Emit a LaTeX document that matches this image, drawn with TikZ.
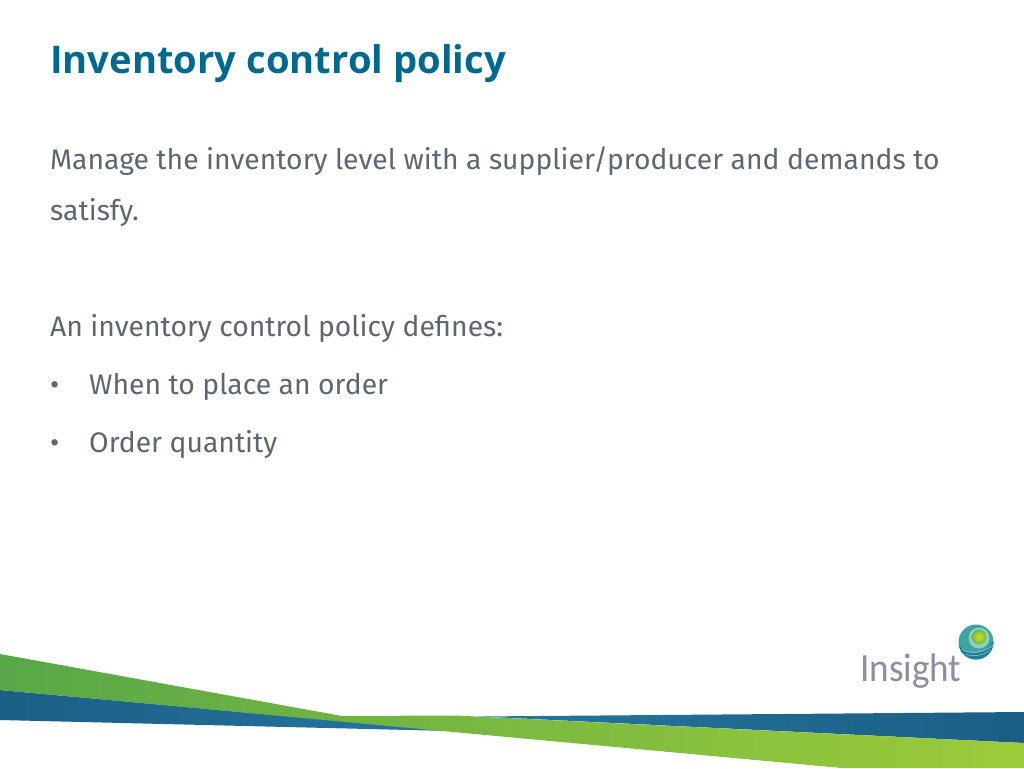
\documentclass[tikz,border=0pt]{standalone}
\usepackage{fontspec}
\usepackage{tikz}
\usepackage{xcolor}
\setmainfont{Fira Sans}
\newfontfamily\titlefont{Open Sans}
\newfontfamily\logofont{Carlito}
\definecolor{titleblue}{HTML}{00698F}
\definecolor{bodygrey}{HTML}{5F6670}
\definecolor{logogrey}{HTML}{8B8F9F}
\definecolor{greenleft}{HTML}{59A748}
\definecolor{greenmid}{HTML}{6FB040}
\definecolor{greenright}{HTML}{9DCB3A}
\definecolor{bluedark}{HTML}{1C5E85}
\definecolor{bluemid}{HTML}{24769F}
\definecolor{logoteal}{HTML}{3FA3A0}
\definecolor{logoaqua}{HTML}{8ED0C6}
\definecolor{logoblue}{HTML}{1F7C9E}
\definecolor{ballyellow}{HTML}{D8DC20}
\definecolor{ballgreen}{HTML}{6CBB45}
\tikzset{
  title/.style={anchor=base west, inner sep=0pt, text=titleblue, font=\titlefont\fontsize{38.2}{38}\selectfont\bfseries},
  body/.style={anchor=base west, inner sep=0pt, text=bodygrey, font=\fontsize{28.3}{28}\selectfont},
}
\begin{document}
\begin{tikzpicture}[x=1pt, y=-1pt]
\useasboundingbox (0,0) rectangle (1024,768);
\fill[white] (0,0) rectangle (1024,768);

\node[title] (head) at (50,74) {Inventory control policy};
\node[body] (l1) at (50,169) {Manage the inventory level with a supplier/producer and demands to};
\node[body] (l2) at (50,220) {satisfy.};
\node[body] (l3) at (50,336) {An inventory control policy defines:};
\node[body] (b1) at (50,394) {•};
\node[body] (l4) at (89,394) {When to place an order};
\node[body] (b2) at (50,452) {•};
\node[body] (l5) at (89,452) {Order quantity};

% bands
\shade[left color=bluedark, right color=bluemid] (0,690) -- (450,731) -- (0,720) -- cycle;
\shade[left color=bluemid, right color=bluedark] (478,716.5) -- (1024,712) -- (1024,743) -- (512,718) -- cycle;
\shade[left color=greenleft, middle color=greenmid, right color=greenright]
  (0,654) -- (342,716) -- (455,715.5) -- (1024,743) -- (1024,768) -- (842,768) -- (0,690) -- cycle;

% logo
\node[anchor=base west, inner sep=0pt, xscale=0.93, text=logogrey, font=\logofont\fontsize{40}{40}\selectfont] (logo) at (860,681) {Insight};
\fill[logoteal] (976,642) circle (17.5);
\begin{scope}
\clip (976,642) circle (17.5);
\fill[logoblue] (958,644) .. controls (968,657) and (985,655) .. (994,640) -- (994,660) -- (958,660) -- cycle;
\draw[logoaqua, line width=0.7] (962,649) .. controls (970,655) and (984,653) .. (993,645);
\draw[logoaqua, line width=0.5] (966,654) .. controls (972,657) and (983,656) .. (990,650);
\end{scope}
\fill[logoaqua] (979,638) circle (10.5);
\shade[inner color=ballyellow, outer color=ballgreen] (979,637) circle (7.5);
\end{tikzpicture}
\end{document}
